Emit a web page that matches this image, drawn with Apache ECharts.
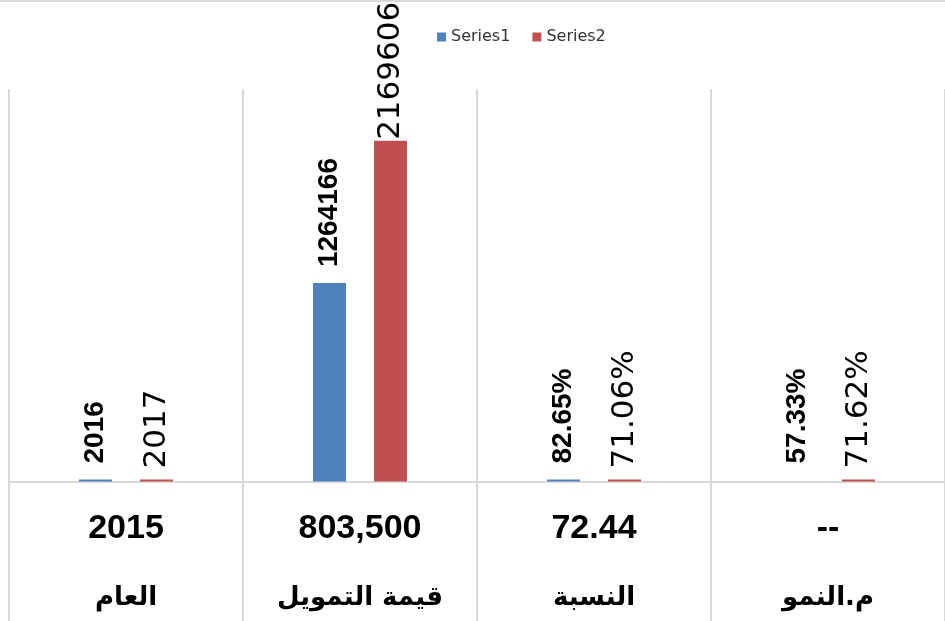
<!DOCTYPE html>
<html>
<head>
<meta charset="utf-8">
<script src="https://cdn.jsdelivr.net/npm/echarts@6/dist/echarts.min.js"></script>
<style>
  html, body { margin: 0; padding: 0; background: #fff; }
  #chart { width: 945px; height: 621px; }
</style>
</head>
<body>
<div id="chart"></div>
<script>
// Categories along the bottom and the base-year row shown above each name
const categories = ['العام', 'قيمة التمويل', 'النسبة', 'م.النمو'];
const baseRow = ['2015', '803,500', '72.44', '--'];

// Bar values per category
const series1Values = [2016, 1264166, 82.65, 57.33];
const series2Values = [2017, 2169606, 71.06, 71.62];

// Text printed on each bar
const series1Labels = ['2016', '1264166', '82.65%', '57.33%'];
const series2Labels = ['2017', '2169606', '71.06%', '71.62%'];

const chart = echarts.init(document.getElementById('chart'), null, { renderer: 'canvas' });

function buildData(values, labels, overrides) {
  return values.map((v, i) => {
    const item = { value: v, labelText: labels[i] };
    if (overrides && overrides[i]) Object.assign(item, overrides[i]);
    return item;
  });
}

const s1Data = buildData(series1Values, series1Labels, {
  3: { itemStyle: { color: 'rgba(0,0,0,0)' } }
});
const s2Data = buildData(series2Values, series2Labels, {
  1: { label: { distance: 1 } }
});

const option = {
  animation: false,
  backgroundColor: '#ffffff',
  legend: {
    left: 432,
    top: 24,
    itemWidth: 9,
    itemHeight: 9,
    itemGap: 22,
    icon: 'rect',
    textStyle: { fontFamily: 'DejaVu Sans', fontSize: 16, color: '#333333' },
    data: ['Series1', 'Series2']
  },
  grid: { left: 9, width: 939, top: 89, bottom: 139.5, containLabel: false },
  xAxis: {
    type: 'category',
    data: categories,
    axisLine: { show: true, lineStyle: { color: '#d9d9d9', width: 2 } },
    axisTick: { show: true, inside: false, length: 140, lineStyle: { color: '#d9d9d9', width: 2 } },
    splitLine: { show: true, lineStyle: { color: '#d9d9d9', width: 2 } },
    axisLabel: {
      margin: 13,
      interval: 0,
      formatter: (value, index) => '{v|' + baseRow[index] + '}\n{n|' + value + '}',
      rich: {
        v: { fontFamily: 'Liberation Sans', fontWeight: 'bold', fontSize: 34, lineHeight: 69, color: '#000' },
        n: { fontFamily: 'DejaVu Sans', fontWeight: 'bold', fontSize: 26, lineHeight: 69, color: '#000' }
      }
    }
  },
  yAxis: {
    type: 'value',
    min: 0,
    max: 2500000,
    show: false,
    splitLine: { show: false }
  },
  series: [
    {
      name: 'Series1',
      type: 'bar',
      barWidth: 33,
      barGap: '85%',
      barMinHeight: 2,
      itemStyle: { color: '#4f81bd' },
      label: {
        show: true,
        position: 'top',
        rotate: 90,
        align: 'left',
        verticalAlign: 'middle',
        distance: 16,
        fontFamily: 'Liberation Sans',
        fontWeight: 'bold',
        fontSize: 28,
        color: '#000',
        formatter: p => p.data.labelText
      },
      data: s1Data
    },
    {
      name: 'Series2',
      type: 'bar',
      barWidth: 33,
      barMinHeight: 2,
      itemStyle: { color: '#c0504d' },
      label: {
        show: true,
        position: 'top',
        rotate: 90,
        align: 'left',
        verticalAlign: 'middle',
        distance: 11,
        fontFamily: 'DejaVu Sans',
        fontSize: 31,
        color: '#000',
        formatter: p => p.data.labelText
      },
      data: s2Data
    }
  ],
  graphic: [
    {
      type: 'line',
      shape: { x1: 0, y1: 1, x2: 945, y2: 1 },
      style: { stroke: '#d9d9d9', lineWidth: 2 }
    }
  ]
};

chart.setOption(option);
</script>
</body>
</html>
